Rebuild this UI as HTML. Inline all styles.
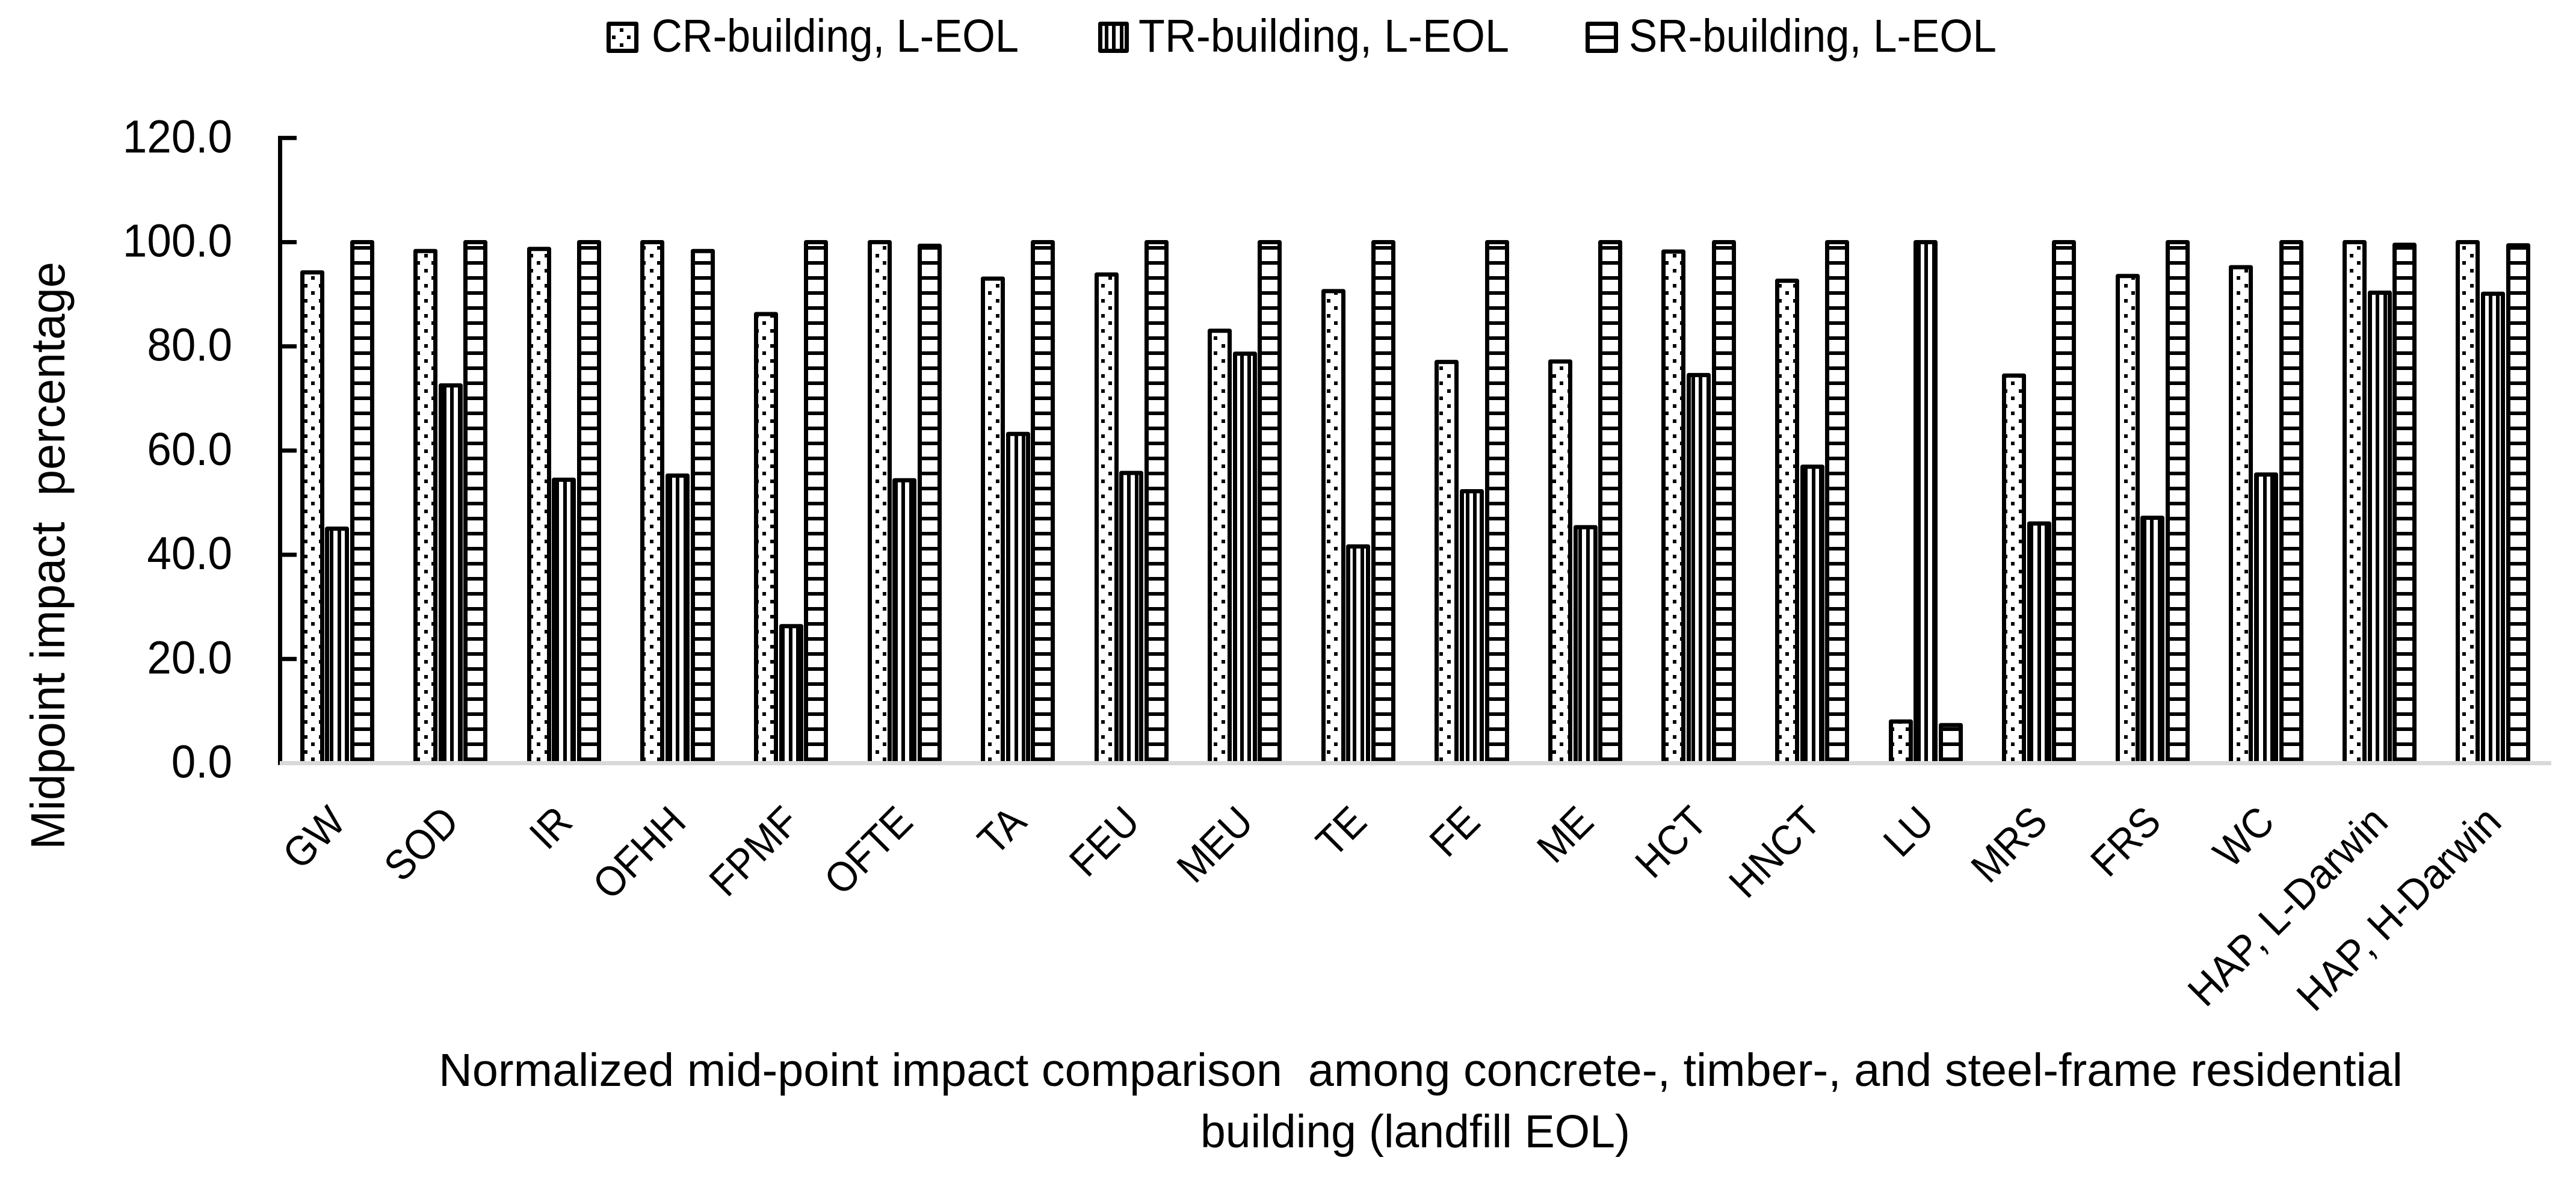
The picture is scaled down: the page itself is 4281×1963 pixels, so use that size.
<!DOCTYPE html>
<html lang="en">
<head>
<meta charset="utf-8">
<title>Normalized mid-point impact comparison</title>
<style>
html,body{margin:0;padding:0;background:#fff}
svg{display:block}
text{font-family:"Liberation Sans",sans-serif;fill:#000;white-space:pre}
</style>
</head>
<body>
<svg id="chart" xmlns="http://www.w3.org/2000/svg" width="4281" height="1963" viewBox="0 0 4281 1963">
  <defs>
    <pattern id="hatch-dots" patternUnits="userSpaceOnUse" x="517" y="1159" width="25" height="25">
      <rect width="25" height="25" fill="#fff"/>
      <rect x="0" y="0" width="6" height="6" fill="#000"/>
      <rect x="13" y="13" width="6" height="6" fill="#000"/>
    </pattern>
    <pattern id="hatch-vertical" patternUnits="userSpaceOnUse" x="548" y="0" width="25" height="25">
      <rect width="25" height="25" fill="#fff"/>
      <rect x="0" y="0" width="6" height="25" fill="#000"/>
      <rect x="13" y="0" width="6" height="25" fill="#000"/>
    </pattern>
    <pattern id="hatch-horizontal" patternUnits="userSpaceOnUse" x="0" y="409" width="25" height="25">
      <rect width="25" height="25" fill="#fff"/>
      <rect x="0" y="0" width="25" height="6" fill="#000"/>
    </pattern>
  </defs>
  <rect width="4281" height="1963" fill="#fff"/>

  <g>
    <g>
      <rect x="1011.5" y="39.5" width="46" height="45" fill="url(#hatch-dots)" stroke="#000" stroke-width="7" stroke-linejoin="round"/>
      <text x="1083" y="86" font-size="77" textLength="610" lengthAdjust="spacingAndGlyphs">CR-building, L-EOL</text>
    </g>
    <g>
      <rect x="1828.5" y="39.5" width="44" height="45" fill="url(#hatch-vertical)" stroke="#000" stroke-width="7" stroke-linejoin="round"/>
      <text x="1892" y="86" font-size="77" textLength="616" lengthAdjust="spacingAndGlyphs">TR-building, L-EOL</text>
    </g>
    <g>
      <rect x="2638.5" y="39.5" width="47" height="45" fill="url(#hatch-horizontal)" stroke="#000" stroke-width="7" stroke-linejoin="round"/>
      <text x="2707" y="86" font-size="77" textLength="611" lengthAdjust="spacingAndGlyphs">SR-building, L-EOL</text>
    </g>
  </g>

  <text transform="translate(107,1412) rotate(-90)" x="0" y="0" font-size="80" textLength="977" lengthAdjust="spacingAndGlyphs">Midpoint impact  percentage</text>

  <g id="bars"></g>
  <g id="y-axis"></g>
  <g id="x-axis"></g>

  <g>
    <text x="729" y="1805" font-size="77" textLength="3264" lengthAdjust="spacingAndGlyphs">Normalized mid-point impact comparison  among concrete-, timber-, and steel-frame residential</text>
    <text x="1995" y="1907" font-size="77" textLength="714" lengthAdjust="spacingAndGlyphs">building (landfill EOL)</text>
  </g>
</svg>
<script>
const categories = ["GW","SOD","IR","OFHH","FPMF","OFTE","TA","FEU","MEU","TE","FE","ME","HCT","HNCT","LU","MRS","FRS","WC","HAP, L-Darwin","HAP, H-Darwin"];
const crValues = [94.2,98.3,98.7,100,86.2,100,93,93.8,83,90.6,77,77.1,98.2,92.6,8,74.4,93.5,95.2,100,100];
const trValues = [45,72.5,54.4,55.2,26.3,54.3,63.2,55.7,78.6,41.6,52.2,45.3,74.5,56.9,100,46,47.1,55.4,90.3,90.1];
const srValues = [100,100,100,98.3,100,99.3,100,100,100,100,100,100,100,100,7.3,100,100,100,99.5,99.4];
const yTickValues = [0,20,40,60,80,100,120];
const yTickLabels = ["0.0","20.0","40.0","60.0","80.0","100.0","120.0"];

const NS = "http://www.w3.org/2000/svg";
const barsLayer = document.getElementById("bars");
const yLayer = document.getElementById("y-axis");
const xLayer = document.getElementById("x-axis");

function xCenter(i) { return 559.75 + 188.57 * i; }
function yScale(v) { return 1268.5 - 8.66 * v; }

function drawSeries(values, seriesKey, offset, patternId) {
  values.forEach(function (v, i) {
    const bar = document.createElementNS(NS, "rect");
    bar.setAttribute("x", Math.round(xCenter(i) + offset - 16.5) + 0.5);
    bar.setAttribute("y", yScale(v));
    bar.setAttribute("width", 33);
    bar.setAttribute("height", yScale(0) - yScale(v));
    bar.setAttribute("fill", "url(#" + patternId + ")");
    bar.setAttribute("stroke", "#000");
    bar.setAttribute("stroke-width", 7);
    bar.setAttribute("stroke-linejoin", "round");
    
    
    barsLayer.appendChild(bar);
  });
}
drawSeries(crValues, "cr", -41.6, "hatch-dots");
drawSeries(trValues, "tr", 0, "hatch-vertical");
drawSeries(srValues, "sr", 41.6, "hatch-horizontal");

const yLine = document.createElementNS(NS, "rect");
yLine.setAttribute("x", 462);
yLine.setAttribute("y", yScale(120) - 3);
yLine.setAttribute("width", 7);
yLine.setAttribute("height", yScale(0) - yScale(120) + 6);


yLayer.appendChild(yLine);

yTickValues.forEach(function (v, i) {
  if (v !== 0) {
    const tick = document.createElementNS(NS, "rect");
    tick.setAttribute("x", 462);
    tick.setAttribute("y", yScale(v) - 3.5);
    tick.setAttribute("width", 31);
    tick.setAttribute("height", 7);
    
    
    yLayer.appendChild(tick);
  }
  const label = document.createElementNS(NS, "text");
  label.setAttribute("x", 386);
  label.setAttribute("y", yScale(v) + 24);
  label.setAttribute("font-size", 77);
  label.setAttribute("text-anchor", "end");
  label.textContent = yTickLabels[i];
  
  
  yLayer.appendChild(label);
  label.setAttribute("textLength", (label.getComputedTextLength() * 0.945).toFixed(1));
  label.setAttribute("lengthAdjust", "spacingAndGlyphs");
});

const xLine = document.createElementNS(NS, "rect");
xLine.setAttribute("x", 465);
xLine.setAttribute("y", 1265);
xLine.setAttribute("width", 3775);
xLine.setAttribute("height", 7);
xLine.setAttribute("fill", "#d9d9d9");


xLayer.appendChild(xLine);

categories.forEach(function (name, i) {
  const px = xCenter(i) + 18;
  const py = 1370;
  const label = document.createElementNS(NS, "text");
  label.setAttribute("transform", "translate(" + px + "," + py + ") rotate(-45)");
  label.setAttribute("font-size", 70);
  label.setAttribute("text-anchor", "end");
  label.textContent = name;
  
  
  xLayer.appendChild(label);
  const widthFactor = name.length > 6 ? 0.955 : 0.918;
  label.setAttribute("textLength", (label.getComputedTextLength() * widthFactor).toFixed(1));
  label.setAttribute("lengthAdjust", "spacingAndGlyphs");
});
</script>
</body>
</html>
